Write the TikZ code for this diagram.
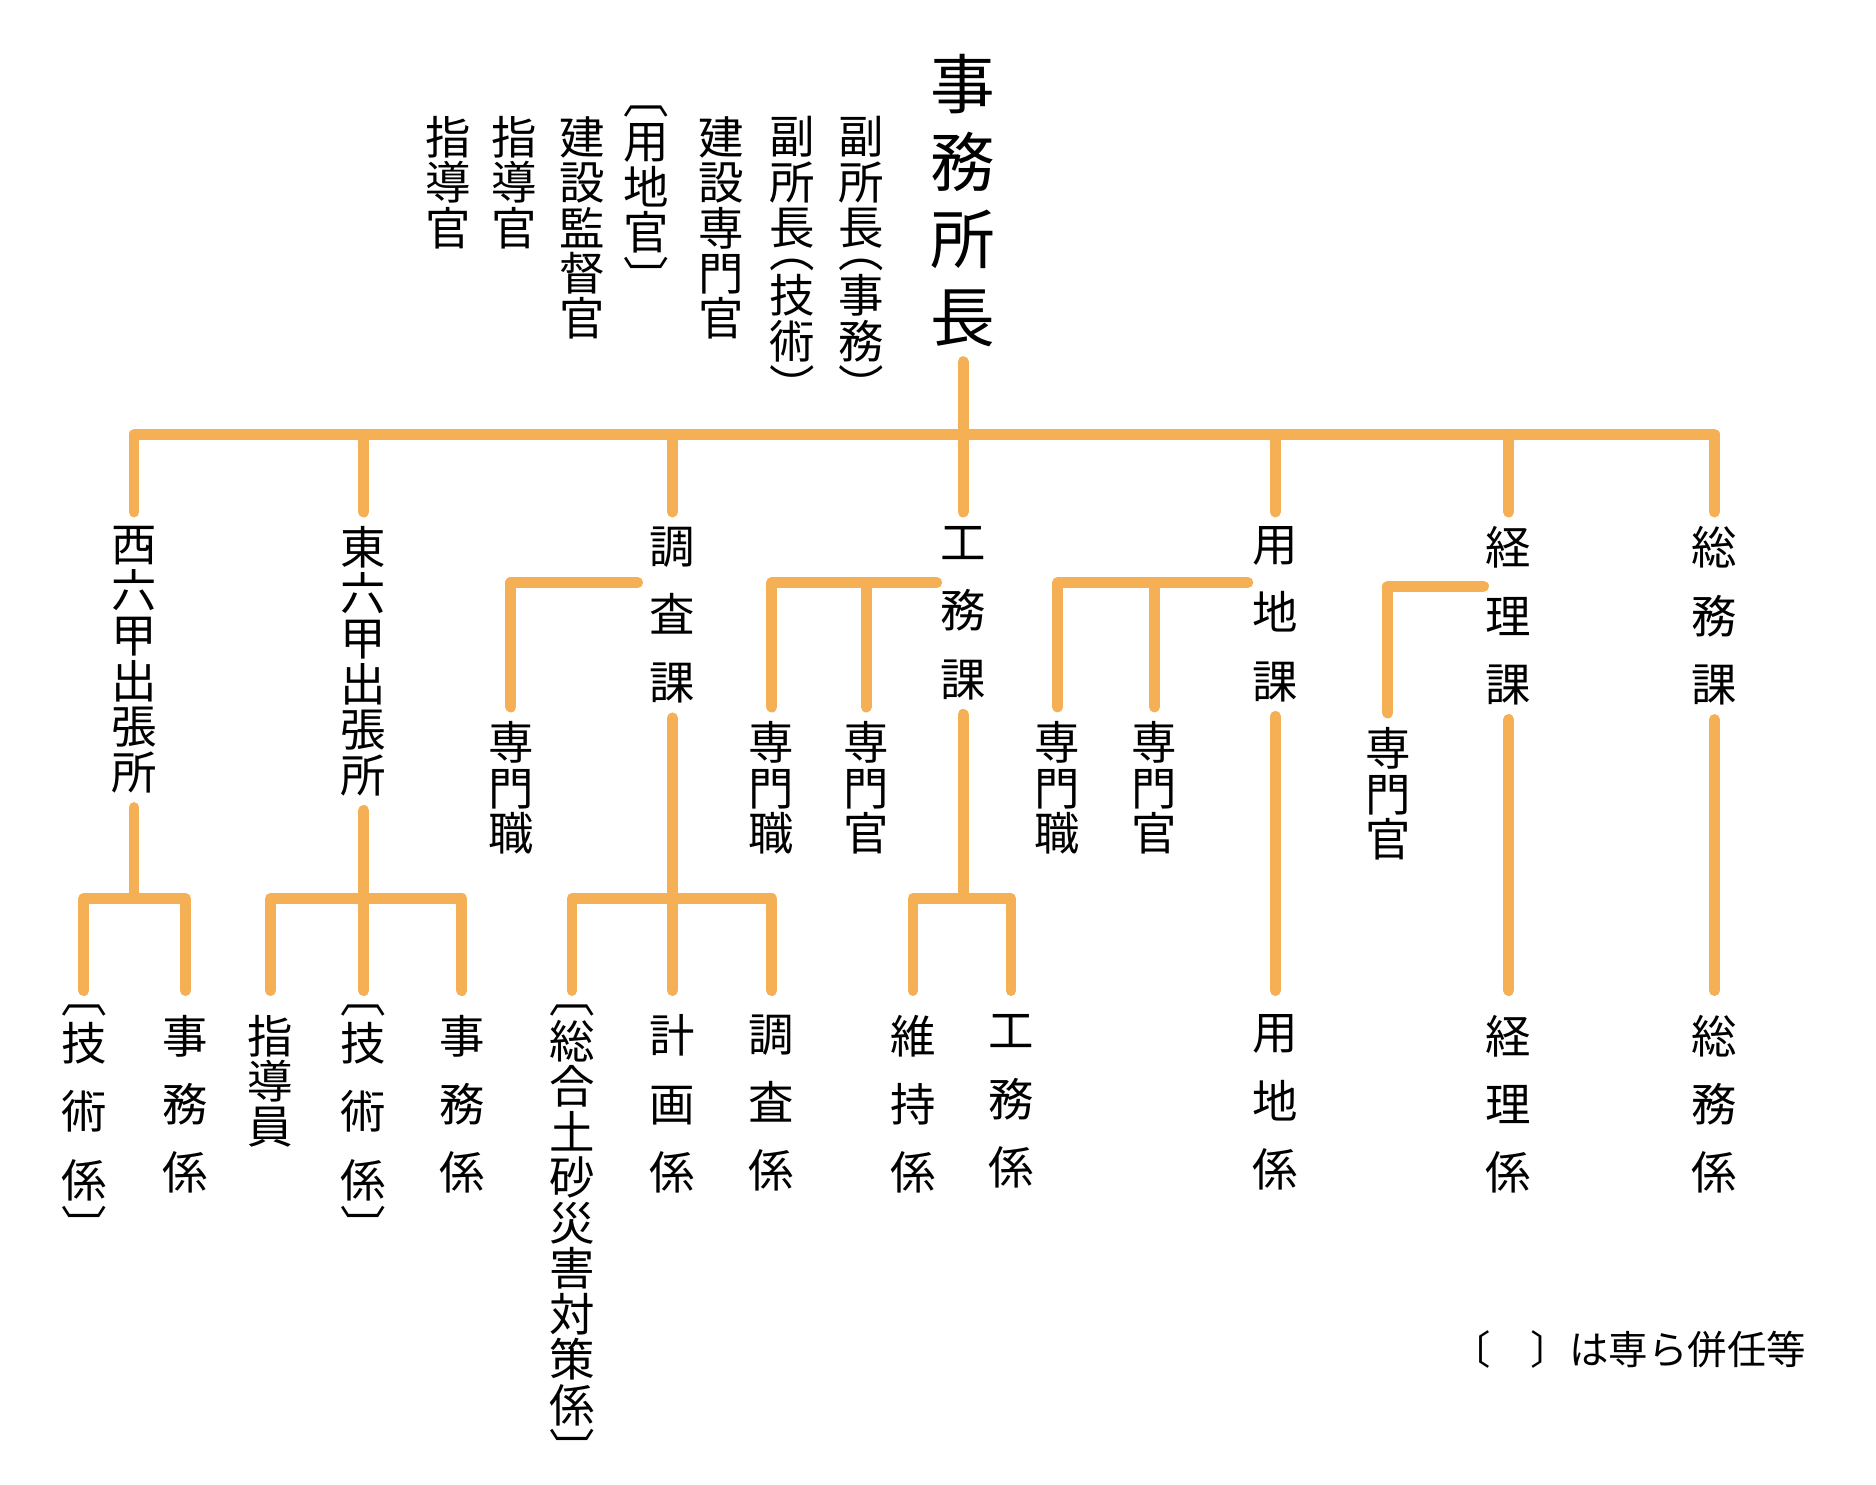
\documentclass[tikz,border=0pt]{standalone}
\usepackage{fontspec}
\setmainfont{Noto Sans CJK JP}
\usepackage{tikz}
\definecolor{linkorange}{RGB}{245,175,85}

\begin{document}
\begin{tikzpicture}[x=1pt, y=-1pt,
    branch/.style={draw=linkorange, line width=9pt, line cap=round, line join=round},
    vlabel/.style={align=center, anchor=north, inner xsep=0pt, inner ysep=12pt,
        font=\fontsize{38}{38}\selectfont},
    vspaced/.style={vlabel, font=\fontsize{38}{57}\selectfont},
    chief/.style={vlabel, font=\fontsize{54}{65}\selectfont},
    leaf/.style={vspaced, inner ysep=20pt},
    leafbr/.style={vspaced}]
    \useasboundingbox (0,0) rectangle (1568,1241);

    % Head of the office and the staff beside him
    \node[chief] (chief) at (805,33) {事\\務\\所\\長};
    \node[vlabel] (vice1) at (720,85) {副\\所\\長\\[-19pt]︵\\事\\務\\︶};
    \node[vlabel] (vice2) at (662,85) {副\\所\\長\\[-19pt]︵\\技\\術\\︶};
    \node[vlabel] (kensen) at (603,85) {建\\設\\専\\門\\官};
    \node[vlabel] (youchikan) at (540,76) {︹\\用\\地\\官\\︺};
    \node[vlabel] (kantoku) at (487,85) {建\\設\\監\\督\\官};
    \node[vlabel] (shidou1) at (430,85) {指\\導\\官};
    \node[vlabel] (shidou2) at (375,85) {指\\導\\官};

    % Departments
    \node[vlabel] (nishi) at (112,428) {西\\六\\甲\\出\\張\\所};
    \node[vlabel] (higashi) at (304,428) {東\\六\\甲\\出\\張\\所};
    \node[vspaced] (chosa) at (562,428) {調\\査\\課};
    \node[vspaced] (koumu) at (805,428) {工\\務\\課};
    \node[vspaced] (youchi) at (1066,428) {用\\地\\課};
    \node[vspaced] (keiri) at (1261,428) {経\\理\\課};
    \node[vspaced] (soumu) at (1433,428) {総\\務\\課};

    % Specialists of the departments
    \node[vlabel] (chosa-sk) at (427,591) {専\\門\\職};
    \node[vlabel] (koumu-sk) at (645,591) {専\\門\\職};
    \node[vlabel] (koumu-sm) at (724,591) {専\\門\\官};
    \node[vlabel] (youchi-sk) at (884,591) {専\\門\\職};
    \node[vlabel] (youchi-sm) at (965,591) {専\\門\\官};
    \node[vlabel] (keiri-sm) at (1160,596) {専\\門\\官};

    % Sections
    \node[leafbr] (nishi-gi) at (70,828) {︹\\[-17pt]技\\術\\係\\[-17pt]︺};
    \node[leaf] (nishi-ji) at (155,828) {事\\務\\係};
    \node[vlabel, inner ysep=20pt] (higashi-sd) at (226,828) {指\\導\\員};
    \node[leafbr] (higashi-gi) at (304,828) {︹\\[-17pt]技\\術\\係\\[-17pt]︺};
    \node[leaf] (higashi-ji) at (386,828) {事\\務\\係};
    \node[vlabel] (chosa-sg) at (478,828) {︹\\総\\合\\土\\砂\\災\\害\\対\\策\\係\\︺};
    \node[leaf] (chosa-kk) at (562,828) {計\\画\\係};
    \node[leaf] (chosa-cs) at (645,828) {調\\査\\係};
    \node[leaf] (koumu-ij) at (763,828) {維\\持\\係};
    \node[leaf] (koumu-km) at (845,828) {工\\務\\係};
    \node[leaf] (youchi-yc) at (1066,828) {用\\地\\係};
    \node[leaf] (keiri-kr) at (1261,828) {経\\理\\係};
    \node[leaf] (soumu-sm) at (1433,828) {総\\務\\係};

    \node[font=\fontsize{33}{33}\selectfont, anchor=east, inner sep=0pt] (note) at (1510,1128) {〔　〕は専ら併任等};

    % Junction points
    \coordinate (bar) at (805,363);
    \coordinate (chosa-l) at (533,487);
    \coordinate (koumu-l) at (783,487);
    \coordinate (youchi-l) at (1043,487);
    \coordinate (keiri-l) at (1240,490);
    \coordinate (nishi-j) at (112,751);
    \coordinate (higashi-j) at (304,751);
    \coordinate (chosa-j) at (562,751);
    \coordinate (koumu-j) at (805,751);

    % Main tree
    \draw[branch] (chief.south) -- (koumu.north);
    \draw[branch] (nishi.north) |- (bar) -| (soumu.north);
    \foreach \d in {higashi, chosa, youchi, keiri}
        \draw[branch] (\d.north) -- (\d.north |- bar);

    % Specialists
    \draw[branch] (chosa-l) -| (chosa-sk.north);
    \draw[branch] (koumu-l) -| (koumu-sk.north);
    \draw[branch] (koumu-sm.north) -- (koumu-sm.north |- koumu-l);
    \draw[branch] (youchi-l) -| (youchi-sk.north);
    \draw[branch] (youchi-sm.north) -- (youchi-sm.north |- youchi-l);
    \draw[branch] (keiri-l) -| (keiri-sm.north);

    % Sections
    \draw[branch] (nishi.south) -- (nishi-j);
    \draw[branch] (nishi-gi.north) |- (nishi-j) -| (nishi-ji.north);
    \draw[branch] (higashi.south) -- (higashi-gi.north);
    \draw[branch] (higashi-sd.north) |- (higashi-j) -| (higashi-ji.north);
    \draw[branch] (chosa.south) -- (chosa-kk.north);
    \draw[branch] (chosa-sg.north) |- (chosa-j) -| (chosa-cs.north);
    \draw[branch] (koumu.south) -- (koumu-j);
    \draw[branch] (koumu-ij.north) |- (koumu-j) -| (koumu-km.north);
    \draw[branch] (youchi.south) -- (youchi-yc.north);
    \draw[branch] (keiri.south) -- (keiri-kr.north);
    \draw[branch] (soumu.south) -- (soumu-sm.north);
\end{tikzpicture}
\end{document}
